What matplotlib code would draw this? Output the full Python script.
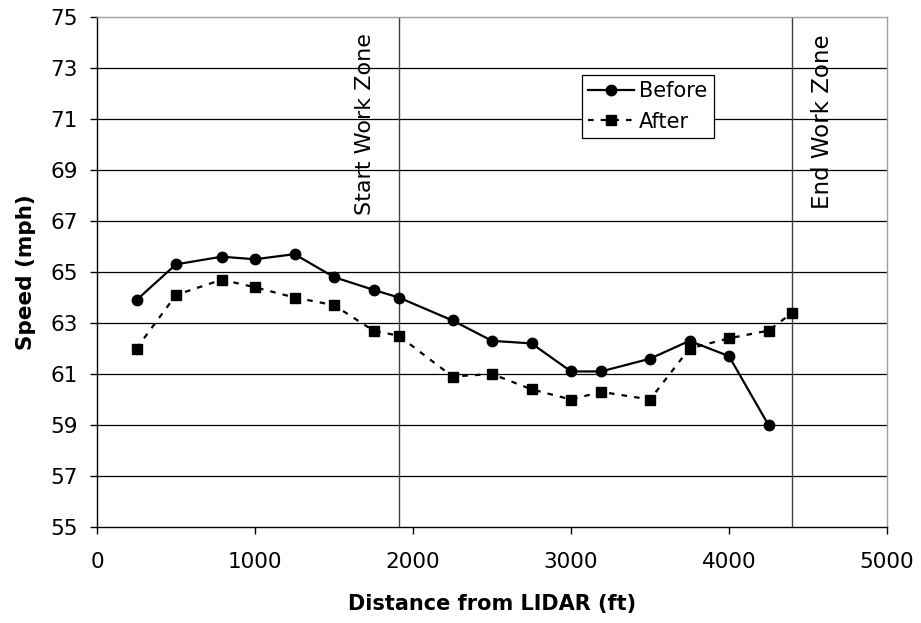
import matplotlib
matplotlib.use("Agg")
import matplotlib.pyplot as plt

plt.rcParams['font.family'] = ['DejaVu Sans']

before_x = [250, 500, 790, 1000, 1250, 1500, 1750, 1910, 2250, 2500, 2750, 3000, 3190, 3500, 3750, 4000, 4250]
before_y = [63.9, 65.3, 65.6, 65.5, 65.7, 64.8, 64.3, 64.0, 63.1, 62.3, 62.2, 61.1, 61.1, 61.6, 62.3, 61.7, 59.0]
after_x = [250, 500, 790, 1000, 1250, 1500, 1750, 1910, 2250, 2500, 2750, 3000, 3190, 3500, 3750, 4000, 4250, 4400]
after_y = [62.0, 64.1, 64.7, 64.4, 64.0, 63.7, 62.7, 62.5, 60.9, 61.0, 60.4, 60.0, 60.3, 60.0, 62.0, 62.4, 62.7, 63.4]
zone_x = [1910, 4400]
zone_labels = ["Start Work Zone", "End Work Zone"]
x_ticks = [0, 1000, 2000, 3000, 4000, 5000]
y_ticks = [55, 57, 59, 61, 63, 65, 67, 69, 71, 73, 75]

fig = plt.figure(figsize=(9.21, 6.23), dpi=100)
ax = fig.add_axes([97/921, 1 - 527/623, 790/921, 510/623])

ax.set_xlim(0, 5000)
ax.set_ylim(55, 75)
ax.set_xticks(x_ticks)
ax.set_yticks(y_ticks)

for y in y_ticks[1:-1]:
    ax.axhline(y, color='black', linewidth=0.9, zorder=1)

for zx in zone_x:
    ax.axvline(zx, color='#404040', linewidth=1.0, zorder=1)

ax.text(1910 - 215, 74.35, zone_labels[0], rotation=90, ha='center', va='top',
        fontsize=16, color='black')
ax.text(4400 + 190, 74.3, zone_labels[1], rotation=90, ha='center', va='top',
        fontsize=16.5, color='black')

ax.plot(before_x, before_y, color='black', linewidth=1.6, marker='o', markersize=7.5,
        label='Before', zorder=3)
ax.plot(after_x, after_y, color='black', linewidth=1.6, linestyle=(0, (2.5, 3.2)),
        marker='s', markersize=7.5, label='After', zorder=3)

leg = ax.legend(loc='upper left', bbox_to_anchor=((582 - 97) / 790, 1 - (75 - 17) / 510),
                fontsize=15, frameon=True, fancybox=False, edgecolor='black', framealpha=1,
                handlelength=2.2, borderpad=0.3, labelspacing=0.5, handletextpad=0.25,
                borderaxespad=0)
leg.get_frame().set_linewidth(0.9)

for side in ['top', 'right']:
    ax.spines[side].set_color('#a0a0a0')
    ax.spines[side].set_linewidth(1.0)
for side in ['left', 'bottom']:
    ax.spines[side].set_color('black')
    ax.spines[side].set_linewidth(1.0)

ax.tick_params(axis='both', direction='out', length=5, width=1, labelsize=15.5, colors='black')
ax.tick_params(axis='y', pad=9)
ax.tick_params(axis='x', pad=13)

ax.set_xlabel('Distance from LIDAR (ft)', fontsize=15, fontweight='bold', labelpad=16)
ax.set_ylabel('Speed (mph)', fontsize=15.5, fontweight='bold', labelpad=10)

fig.savefig('out.png', dpi=100)
